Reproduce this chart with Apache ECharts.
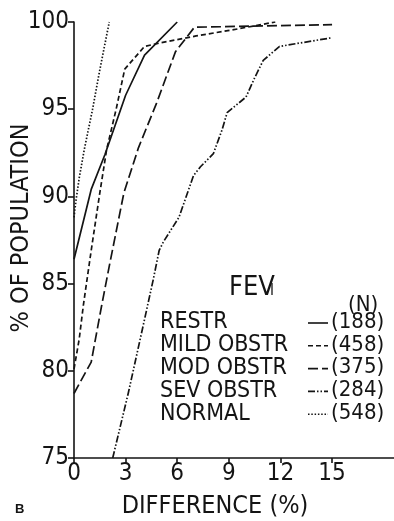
<!DOCTYPE html>
<html>
<head>
<meta charset="utf-8">
<script src="https://cdn.jsdelivr.net/npm/echarts@6/dist/echarts.min.js"></script>
<style>
  html, body { margin: 0; padding: 0; background: #fff; }
  #chart { width: 394px; height: 521px; }
</style>
</head>
<body>
<div id="chart"></div>
<script>
  // cumulative curves: [difference %, % of population]
  const restr = [[0, 86.4], [1.0, 90.4], [1.8, 92.4], [3.0, 95.8], [4.1, 98.1], [6.0, 100]];
  const mildObstr = [[0, 80.1], [0.3, 81.8], [0.55, 83.8], [1.0, 86.9], [1.5, 90.2], [1.9, 92.7],
    [2.45, 95.0], [2.95, 97.3], [4.1, 98.6], [5.0, 98.8], [7.1, 99.2], [9.5, 99.6], [11.7, 100]];
  const modObstr = [[0, 78.7], [1.0, 80.5], [1.6, 83.7], [2.05, 86.0], [2.9, 90.2], [3.75, 92.8],
    [4.8, 95.35], [5.9, 98.3], [7.0, 99.7], [15, 99.85]];
  const sevObstr = [[2.25, 75], [3.15, 78.7], [4.0, 82.5], [4.6, 85.2], [4.95, 86.9], [5.2, 87.4],
    [6.1, 88.8], [6.95, 91.2], [7.35, 91.7], [8.1, 92.45], [8.6, 93.8], [8.9, 94.8], [10.0, 95.7],
    [10.5, 96.8], [11.0, 97.8], [11.95, 98.6], [15, 99.1]];
  const normal = [[0, 88.8], [0.12, 89.8], [0.31, 91.1], [0.6, 92.7], [1.08, 95.0], [1.47, 97.1], [2.05, 100]];

  const groupNames = ['RESTR', 'MILD OBSTR', 'MOD OBSTR', 'SEV OBSTR', 'NORMAL'];
  const groupCounts = ['(188)', '(458)', '(375)', '(284)', '(548)'];
  const xTicks = [0, 3, 6, 9, 12, 15];
  const yTicks = [75, 80, 85, 90, 95, 100];

  const ink = '#141414';
  const font = "'DejaVu Sans Condensed', 'Liberation Sans Narrow', sans-serif";
  const dashes = ['solid', [5, 3], [10, 4], [7, 2, 1.5, 2, 1.5, 2], [1.5, 1.8]];
  const curves = [restr, mildObstr, modObstr, sevObstr, normal];

  const chart = echarts.init(document.getElementById('chart'));

  // hand drawn legend block
  const legendItems = [];
  legendItems.push({ type: 'text', left: 229, top: 274, style: { text: 'FEV', font: '27px ' + font, fill: ink } });
  legendItems.push({ type: 'text', left: 270, top: 284, style: { text: 'I', font: '15px ' + font, fill: ink } });
  legendItems.push({ type: 'text', left: 348, top: 294, style: { text: '(N)', font: '22px ' + font, fill: ink } });
  groupNames.forEach((name, i) => {
    const cy = 323 + i * 22.8;
    legendItems.push({ type: 'text', left: 160, top: cy - 12, style: { text: name, font: '23px ' + font, fill: ink } });
    legendItems.push({
      type: 'line',
      shape: { x1: 308, y1: cy, x2: 328, y2: cy },
      style: { stroke: ink, lineWidth: 1.6, lineDash: dashes[i] === 'solid' ? null : dashes[i] }
    });
    legendItems.push({ type: 'text', left: 331, top: cy - 12, style: { text: groupCounts[i], font: '22px ' + font, fill: ink } });
  });
  legendItems.push({ type: 'text', left: 15, top: 503, style: { text: 'B', font: 'bold 13px sans-serif', fill: ink } });

  const option = {
    animation: false,
    backgroundColor: '#fff',
    grid: { left: 74, top: 22, width: 320, height: 436, containLabel: false, outerBoundsMode: 'none' },
    xAxis: {
      type: 'value',
      min: 0,
      max: 18.6,
      interval: 3,
      name: 'DIFFERENCE (%)',
      nameLocation: 'middle',
      nameGap: 36,
      nameMoveOverlap: false,
      nameTextStyle: { fontFamily: font, fontSize: 25, color: ink, padding: [0, 38, 0, 0] },
      splitLine: { show: false },
      axisLine: { lineStyle: { color: ink, width: 1.6 } },
      axisTick: { customValues: xTicks, length: 5, lineStyle: { color: ink, width: 1.6 } },
      axisLabel: { customValues: xTicks, fontFamily: font, fontSize: 24, color: ink, margin: 4 }
    },
    yAxis: {
      type: 'value',
      min: 75,
      max: 100,
      interval: 5,
      name: '% OF POPULATION',
      nameLocation: 'middle',
      nameGap: 40,
      nameMoveOverlap: false,
      nameTextStyle: { fontFamily: font, fontSize: 25, color: ink, padding: [0, 0, 0, 24] },
      splitLine: { show: false },
      axisLine: { show: true, lineStyle: { color: ink, width: 1.6 } },
      axisTick: { show: true, customValues: yTicks, length: 6, lineStyle: { color: ink, width: 1.6 } },
      axisLabel: { customValues: yTicks, fontFamily: font, fontSize: 24, color: ink, margin: 5 }
    },
    graphic: legendItems,
    series: curves.map((data, i) => ({
      name: groupNames[i],
      type: 'line',
      data: data,
      showSymbol: false,
      smooth: false,
      lineStyle: { color: ink, width: 1.7, type: dashes[i] }
    }))
  };

  chart.setOption(option);
</script>
</body>
</html>
